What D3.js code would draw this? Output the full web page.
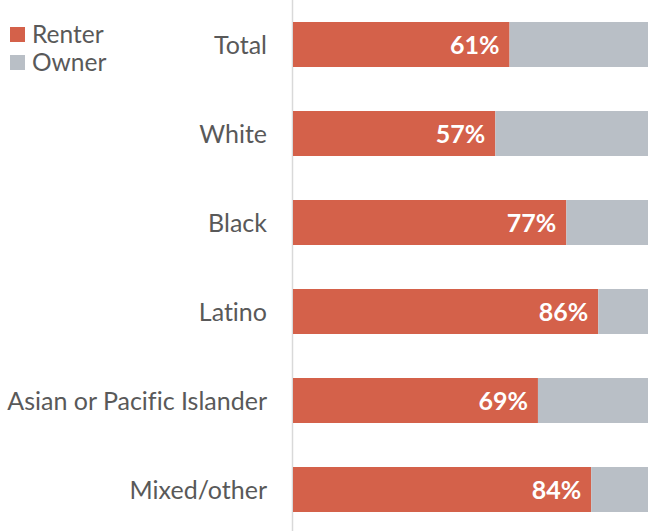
<!DOCTYPE html>
<html><head><meta charset="utf-8">
<script src="https://cdn.jsdelivr.net/npm/d3@7"></script>
<style>body{margin:0;background:#fff}svg{display:block}text{font-variant-ligatures:none}</style>
</head><body>
<script>
const categories = ["Total","White","Black","Latino","Asian or Pacific Islander","Mixed/other"];
const renter = [61,57,77,86,69,84];
const owner = renter.map(v => 100 - v);
const seriesNames = ["Renter","Owner"];
const colors = ["#D4614A","#B9BFC6"];

const W = 648, H = 531;
const svg = d3.select("body").append("svg").attr("width", W).attr("height", H);
const font = "Lato, 'Open Sans', sans-serif";

const y = d3.scaleBand().domain(categories).range([0, 534]).paddingInner(44/89).paddingOuter(22/89);
const x = d3.scaleLinear().domain([0, 100]).range([293, 648]);

// axis line
svg.append("line").attr("x1", 292.5).attr("x2", 292.5).attr("y1", 0).attr("y2", H)
  .attr("stroke", "#d9d9d9").attr("stroke-width", 1.5);

const rows = categories.map((c, i) => ({c, r: renter[i], o: owner[i]}));
const g = svg.selectAll("g.row").data(rows).enter().append("g");
g.append("rect").attr("x", x(0)).attr("y", d => y(d.c)).attr("width", d => x(d.r) - x(0))
  .attr("height", y.bandwidth()).attr("fill", colors[0]);
g.append("rect").attr("x", d => x(d.r)).attr("y", d => y(d.c)).attr("width", d => x(d.r + d.o) - x(d.r))
  .attr("height", y.bandwidth()).attr("fill", colors[1]);
g.append("text").attr("x", d => x(d.r) - 10).attr("y", d => y(d.c) + y.bandwidth()/2)
  .attr("dy", "0.36em").attr("text-anchor", "end").attr("fill", "#fff")
  .attr("font-family", font).attr("font-weight", "bold").attr("font-size", 25)
  .text(d => d.r + "%");
g.append("text").attr("x", 267).attr("y", d => y(d.c) + y.bandwidth()/2)
  .attr("dy", "0.36em").attr("text-anchor", "end").attr("fill", "#595959")
  .attr("font-family", font).attr("font-size", 25)
  .text(d => d.c);

// legend
const lg = svg.selectAll("g.leg").data(seriesNames).enter().append("g")
  .attr("transform", (d, i) => `translate(10,${27 + i*28})`);
lg.append("rect").attr("width", 15).attr("height", 15).attr("fill", (d, i) => colors[i]);
lg.append("text").attr("x", 22).attr("y", 7.5).attr("dy", "0.36em").attr("fill", "#595959")
  .attr("font-family", font).attr("font-size", 24.5).text(d => d);
</script>
</body></html>
